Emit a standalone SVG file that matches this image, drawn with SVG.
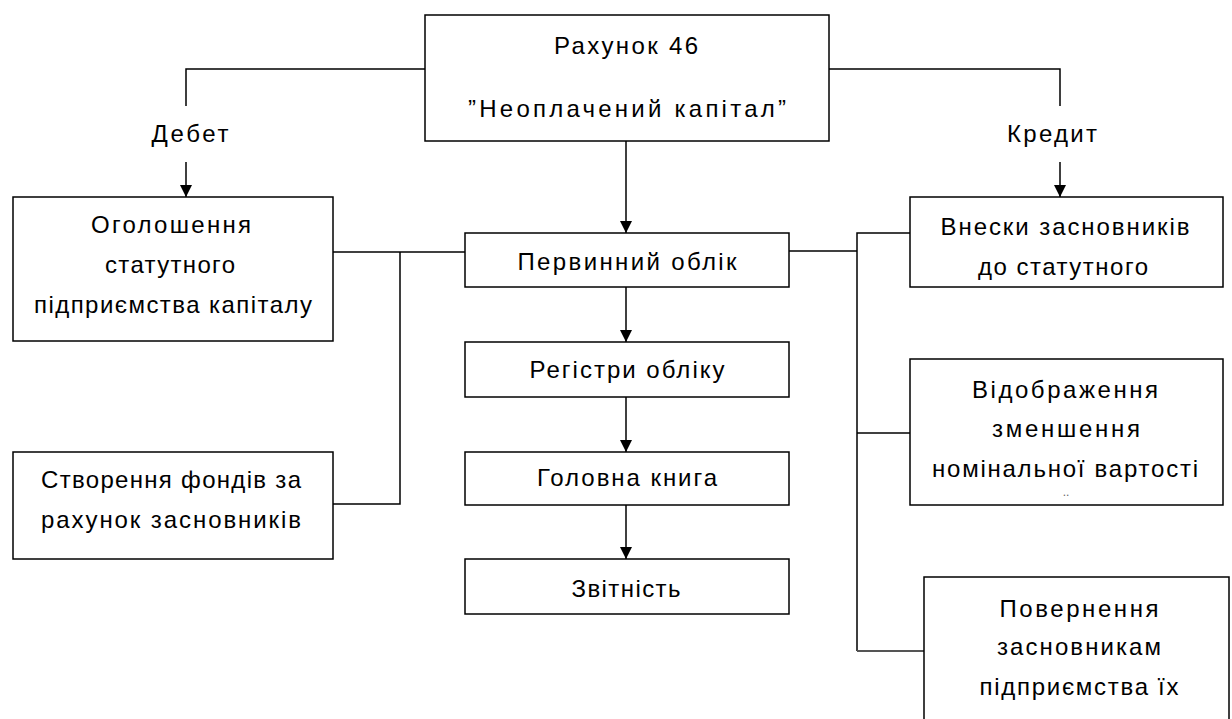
<svg xmlns="http://www.w3.org/2000/svg" width="1232" height="719" viewBox="0 0 1232 719">
<style>
.box{fill:#fff;stroke:#000;stroke-width:1.5}
.ln{fill:none;stroke:#000;stroke-width:1.5}
text{font-family:"Liberation Sans",Arial,sans-serif;font-size:24px;fill:#000;text-anchor:middle}
</style>
<defs>
<marker id="ah" viewBox="0 0 12 12" refX="12" refY="6" markerWidth="12" markerHeight="12" markerUnits="userSpaceOnUse" orient="auto">
<path d="M0,0 L12,6 L0,12 Z" fill="#000"/>
</marker>
</defs>
<rect width="1232" height="719" fill="#fff"/>
<g id="connectors">
<path class="ln" d="M425,69 H186 V106"/>
<path class="ln" d="M829,69 H1060 V106"/>
<path class="ln" d="M186,162 V197" marker-end="url(#ah)"/>
<path class="ln" d="M1060,162 V197" marker-end="url(#ah)"/>
<path class="ln" d="M626,141 V233" marker-end="url(#ah)"/>
<path class="ln" d="M626,287 V342" marker-end="url(#ah)"/>
<path class="ln" d="M626,397 V452" marker-end="url(#ah)"/>
<path class="ln" d="M626,505 V559" marker-end="url(#ah)"/>
<path class="ln" d="M333,252 H465"/>
<path class="ln" d="M400,252 V504 H333"/>
<path class="ln" d="M789,251 H857"/>
<path class="ln" d="M910,233 H857 V651"/>
<path class="ln" d="M857,433 H910"/>
<path class="ln" d="M857,651 H924" style="stroke:#555;stroke-width:2"/>
</g>
<g id="label-debet"><text x="190" y="142" textLength="77">Дебет</text></g>
<g id="label-kredyt"><text x="1052" y="142" textLength="90">Кредит</text></g>
<g id="n-account">
<rect class="box" x="425" y="15" width="404" height="126"/>
<text x="626" y="54" textLength="144">Рахунок 46</text>
<text x="627" y="117" textLength="318">”Неоплачений капітал”</text>
</g>
<g id="n-declare">
<rect class="box" x="13" y="197" width="320" height="144"/>
<text x="171" y="233" textLength="160">Оголошення</text>
<text x="170" y="273" textLength="130">статутного</text>
<text x="173" y="313" textLength="278">підприємства капіталу</text>
</g>
<g id="n-funds">
<rect class="box" x="13" y="452" width="320" height="107"/>
<text x="171" y="488" textLength="260">Створення фондів за</text>
<text x="171" y="528" textLength="260">рахунок засновників</text>
</g>
<g id="n-primary">
<rect class="box" x="465" y="233" width="324" height="54"/>
<text x="627" y="270" textLength="219">Первинний облік</text>
</g>
<g id="n-registers">
<rect class="box" x="465" y="342" width="324" height="55"/>
<text x="627" y="378" textLength="195">Регістри обліку</text>
</g>
<g id="n-ledger">
<rect class="box" x="465" y="452" width="324" height="53"/>
<text x="627" y="486" textLength="180">Головна книга</text>
</g>
<g id="n-report">
<rect class="box" x="465" y="559" width="324" height="55"/>
<text x="626" y="597" textLength="109">Звітність</text>
</g>
<g id="n-contrib">
<rect class="box" x="910" y="197" width="313" height="90"/>
<text x="1065" y="235" textLength="249">Внески засновників</text>
<text x="1063" y="275" textLength="170">до статутного</text>
</g>
<g id="n-reduce">
<rect class="box" x="910" y="359" width="313" height="146"/>
<text x="1065" y="398" textLength="186">Відображення</text>
<text x="1066" y="437" textLength="148">зменшення</text>
<text x="1065" y="477" textLength="266">номінальної вартості</text>
<text x="1066" y="496" style="font-size:12px;fill:#666">..</text>
</g>
<g id="n-return">
<rect class="box" x="924" y="577" width="305" height="160"/>
<text x="1079" y="617" textLength="159">Повернення</text>
<text x="1079" y="655" textLength="164">засновникам</text>
<text x="1079" y="695" textLength="199">підприємства їх</text>
</g>
</svg>
